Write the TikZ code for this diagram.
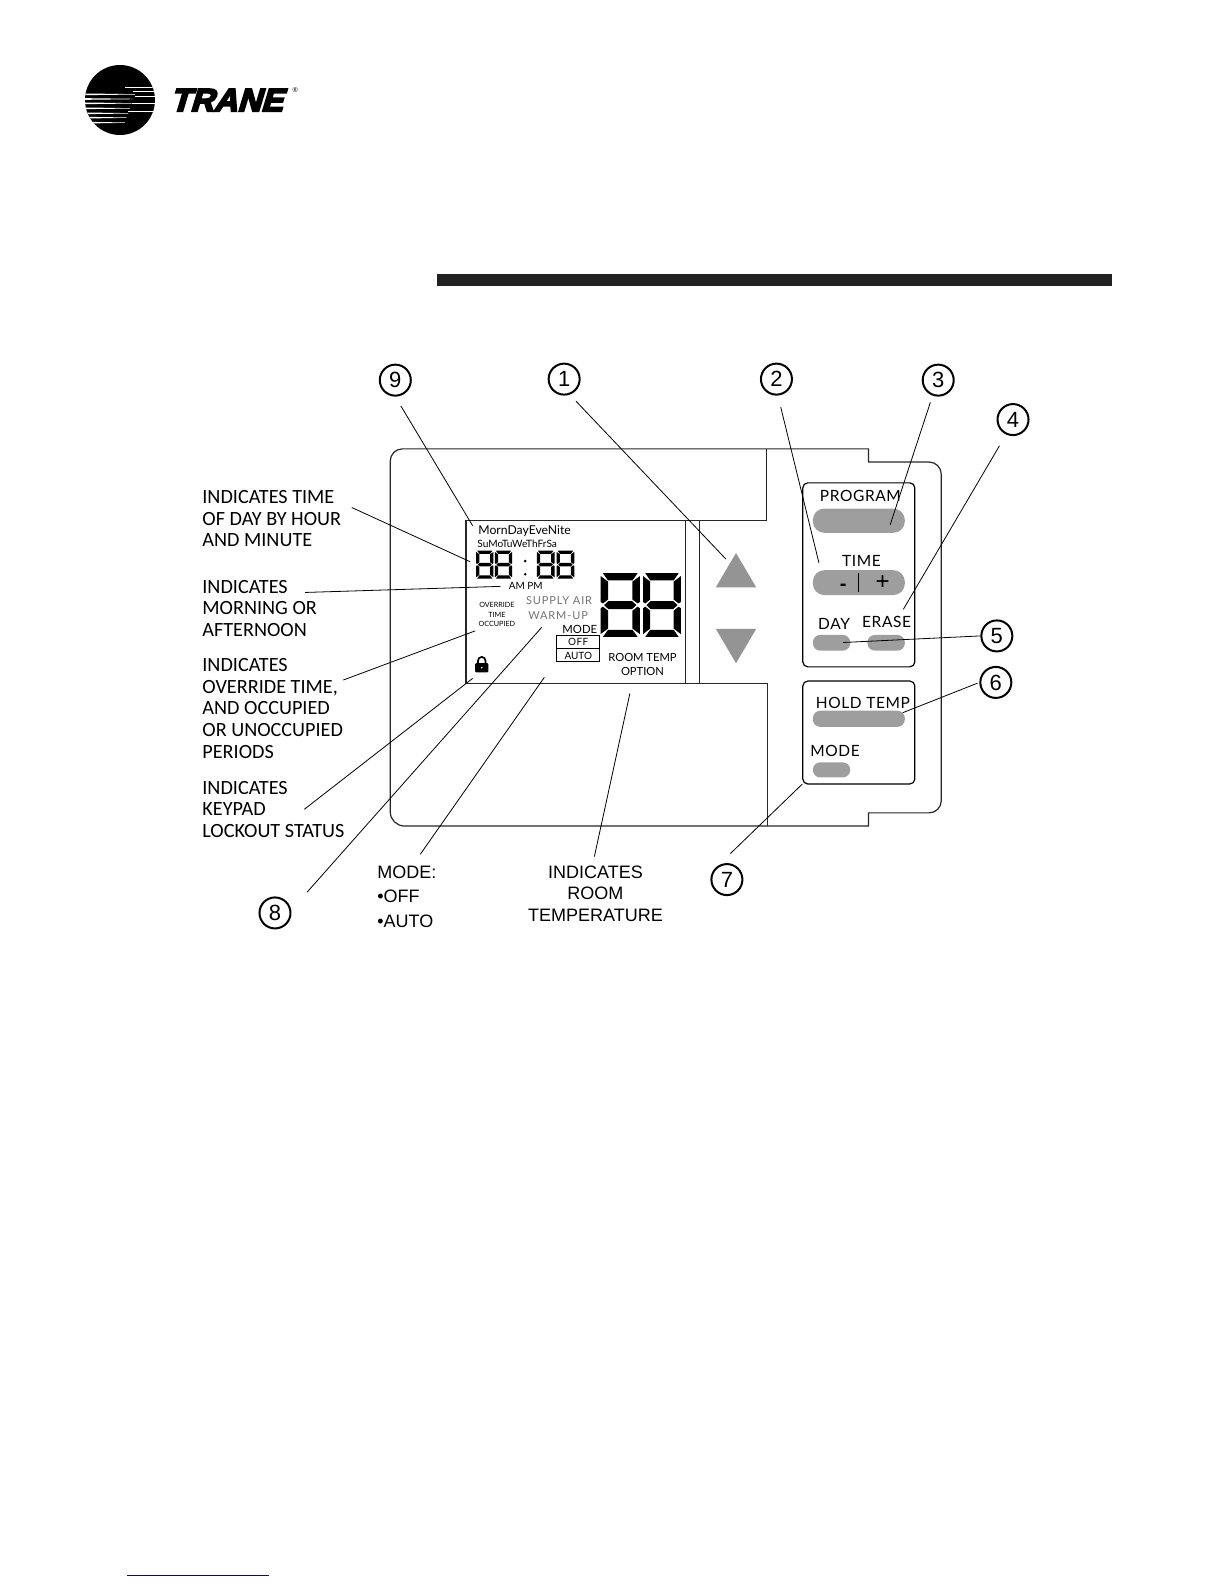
\documentclass[tikz,border=0pt]{standalone}
\usepackage{fontspec}
\setmainfont{Liberation Sans}
\newfontfamily\labelfont{Carlito}
\newfontfamily\lcdfont{Lato}
\newfontfamily\panelfont[LetterSpace=4]{Lato}
\newfontfamily\tranefont[FakeSlant=0.3,FakeBold=6,FakeStretch=1.02]{Liberation Sans Bold}
\newcommand{\fs}[1]{\fontsize{#1}{#1}\selectfont}
\newcommand{\fsl}[2]{\fontsize{#1}{#2}\selectfont}
\newcommand{\segdigit}[4]{%
\begin{scope}[shift={(#1,#2)},xscale=#3/100,yscale=#4/160]
\fill[black] (6,0)--(94,0)--(81,18)--(19,18)--cycle;
\fill[black] (9,80)--(20,70)--(80,70)--(91,80)--(80,90)--(20,90)--cycle;
\fill[black] (6,160)--(94,160)--(81,142)--(19,142)--cycle;
\fill[black] (0,7)--(19,21)--(19,66)--(6,76)--(0,72)--cycle;
\fill[black] (100,7)--(81,21)--(81,66)--(94,76)--(100,72)--cycle;
\fill[black] (0,153)--(19,139)--(19,94)--(6,84)--(0,88)--cycle;
\fill[black] (100,153)--(81,139)--(81,94)--(94,84)--(100,88)--cycle;
\end{scope}}
\tikzset{
  lead/.style={draw=black,line width=0.8pt},
  outline/.style={draw=black!85,line width=1.2pt},
  numcirc/.style={circle,draw=black,line width=2pt,minimum width=31pt,inner sep=0pt,font=\fs{22}},
  lefttext/.style={anchor=north west,inner sep=0pt,align=left,font=\labelfont\fsl{20.2}{21.65}},
  btnfill/.style={fill=black!38},
  panel/.style={draw=black,line width=1.2pt,rounded corners=5pt},
  paneltext/.style={font=\panelfont\fs{15.5},inner sep=0pt},
  lcdtext/.style={inner sep=0pt}
}
\begin{document}
\begin{tikzpicture}[x=1.011pt,y=-1.011pt]
\useasboundingbox (0,0) rectangle (1210.68,1566.77);
% logo
\begin{scope}[x=0.3333pt,y=-0.3333pt,shift={(70pt,-50pt)}]
\fill[black] (150,150) circle (105);
\begin{scope}
\clip (150,150) circle (105);
\foreach \ya/\xa/\xb in {112/165/255,125/190/255,140/195/255,160/185/255,183/175/255}
  \draw[white,line width=0.6pt] (\xa,\ya)--(\xb,\ya);
\foreach \ya/\xa/\xb in {133/45/195,147/45/190,160/45/185,175/45/180,190/45/175,203/45/170,218/45/165}
  \fill[white] (\xa,\ya-2.5)--(\xb,\ya-0.6)--(\xb,\ya+0.6)--(\xa,\ya+2.5)--cycle;
\end{scope}
\end{scope}
\node[anchor=base west,inner sep=0pt,font=\tranefont\fs{32}] (trane) at (168,110) {TRANE};
\node[anchor=center,inner sep=0pt,font=\fs{7}] (reg) at (292,89.5) {®};
% bar
\fill[black!87] (432,271) rectangle (1100,283);
% device
\draw[outline] (859,444) -- (398,444) to[out=180,in=90] (386,456) -- (386,803)
  to[out=-90,in=180] (400,817) -- (859,817) -- (859,804) -- (919,804)
  to[out=0,in=-90] (931,792) -- (931,469) to[out=90,in=0] (919,457) -- (859,457) -- cycle;
\draw[outline] (758,444) -- (758,515) -- (461,515) -- (461,676) -- (759,676) -- (759,817);
\draw[outline] (678,515) -- (678,676);
\draw[outline] (691.5,515) -- (691.5,676);
% arrows
\fill[black!42] (728,547) -- (748,581) -- (708,581) -- cycle;
\fill[black!42] (728,656) -- (748,622) -- (708,622) -- cycle;
% panels
\node[panel,minimum width=112pt,minimum height=184pt,anchor=north west] (panelA) at (793.5,477) {};
\node[panel,minimum width=112pt,minimum height=103pt,anchor=north west] (panelB) at (793.5,673) {};
\fill[btnfill,rounded corners=11.5pt] (804,503) rectangle (895,527);
\fill[btnfill,rounded corners=11.5pt] (804,564) rectangle (895,588.6);
\fill[btnfill,rounded corners=7.5pt] (804,628) rectangle (841,643.6);
\fill[btnfill,rounded corners=7.5pt] (858,628) rectangle (895,643.6);
\fill[btnfill,rounded corners=7.5pt] (804,703) rectangle (895,719);
\fill[btnfill,rounded corners=7.5pt] (804,754) rectangle (841,769);
\node[paneltext] (tprog) at (851,490.5) {PROGRAM};
\node[paneltext] (ttime) at (852,555) {TIME};
\node[inner sep=0pt,font=\bfseries\fs{20}] (tminus) at (834,581) {-};
\draw[black,line width=1pt] (849,567) -- (849,586);
\node[inner sep=0pt,font=\fs{24}] (tplus) at (873,576) {+};
\node[paneltext] (tday) at (825,617) {DAY};
\node[paneltext] (terase) at (877,615.5) {ERASE};
\node[paneltext] (thold) at (853.5,695) {HOLD TEMP};
\node[paneltext] (tmode) at (826,743) {MODE};
% lcd
\node[lcdtext,anchor=base west,font=\lcdfont\fs{12.2}] (morn) at (473,529) {MornDayEveNite};
\node[lcdtext,anchor=base west,font=\lcdfont\fs{10.1}] (sumo) at (472,542) {SuMoTuWeThFrSa};
\segdigit{471}{544.7}{17}{27.5}
\segdigit{489.5}{544.7}{17}{27.5}
\segdigit{531}{544.7}{17.5}{27.5}
\segdigit{550.5}{544.7}{17.5}{27.5}
\fill[black] (519.5,555) circle (1.4) (519.5,568) circle (1.4);
\segdigit{594}{567}{39}{63}
\segdigit{636}{567}{37.5}{63}
\node[lcdtext,font=\lcdfont\fs{10}] (ampm) at (520,580) {AM PM};
\node[lcdtext,align=center,font=\lcdfont\fsl{7.2}{9.3}] (over) at (491.5,608) {OVERRIDE\\TIME\\OCCUPIED};
\node[lcdtext,font=\lcdfont\fs{11},text=black!55] (supply) at (553,594) {\addfontfeature{LetterSpace=8}SUPPLY AIR};
\node[lcdtext,font=\lcdfont\fs{11},text=black!55] (warm) at (552,609) {\addfontfeature{LetterSpace=8}WARM-UP};
\node[lcdtext,font=\lcdfont\fs{11.3}] (tmode2) at (573.5,623) {MODE};
\draw[black,line width=1.1pt] (550,629) rectangle (593,654.5) (550,641.3) -- (593,641.3);
\node[lcdtext,font=\lcdfont\fs{10}] (off) at (572,635.3) {\addfontfeature{LetterSpace=4}OFF};
\node[lcdtext,font=\lcdfont\fs{10}] (auto) at (572,648.6) {AUTO};
\node[lcdtext,align=center,font=\lcdfont\fsl{11.2}{14.2}] (rt) at (635.5,657) {ROOM TEMP\\OPTION};
% lock
\fill[black,rounded corners=1pt] (470,656) rectangle (483,665);
\draw[black,line width=1.7pt] (472.8,657) -- (472.8,653.5) arc (180:360:3.7) -- (480.2,657);
\fill[white] (476.5,660.5) circle (0.9);
% left labels
\node[lefttext] (la) at (200,485) {INDICATES TIME\\OF DAY BY HOUR\\AND MINUTE};
\node[lefttext] (lb) at (200,573.5) {INDICATES\\MORNING OR\\AFTERNOON};
\node[lefttext] (lc) at (200,651) {INDICATES\\OVERRIDE TIME,\\AND OCCUPIED\\OR UNOCCUPIED\\PERIODS};
\node[lefttext] (ld) at (200,772.5) {INDICATES\\KEYPAD\\LOCKOUT STATUS};
% bottom labels
\node[anchor=west,inner sep=0pt,font=\fs{18}] (bm1) at (373,863) {MODE:};
\node[anchor=west,inner sep=0pt,font=\fs{18}] (bm2) at (373,887) {•OFF};
\node[anchor=west,inner sep=0pt,font=\fs{18}] (bm3) at (373,911) {•AUTO};
\node[inner sep=0pt,font=\fs{18}] (br1) at (589,862.5) {INDICATES};
\node[inner sep=0pt,font=\fs{18}] (br2) at (589,884) {ROOM};
\node[inner sep=0pt,font=\fs{18}] (br3) at (589,905) {TEMPERATURE};
% circles
\node[numcirc] (c9) at (391,376) {9};
\node[numcirc] (c1) at (558,375) {1};
\node[numcirc] (c2) at (768,375) {2};
\node[numcirc] (c3) at (928,376) {3};
\node[numcirc] (c4) at (1002,415) {4};
\node[numcirc] (c5) at (986,629) {5};
\node[numcirc] (c6) at (985,675) {6};
\node[numcirc] (c7) at (719,870) {7};
\node[numcirc] (c8) at (272,903) {8};
% free ends
\coordinate (e9) at (467.5,520);
\coordinate (e1) at (718,553);
\coordinate (e2) at (810,556.6);
\coordinate (e3) at (880.5,519);
\coordinate (e4) at (893.5,602.7);
\coordinate (e5) at (834,635.5);
\coordinate (e6) at (892.8,705);
\coordinate (e7) at (793.6,775.5);
\coordinate (e8) at (535.8,620.5);
\coordinate (a1) at (348,502);
\coordinate (a2) at (465,555.6);
\coordinate (b1) at (301.7,586);
\coordinate (b2) at (495,580);
\coordinate (o1) at (339.6,672.6);
\coordinate (o2) at (470,624);
\coordinate (k1) at (301,800.5);
\coordinate (k2) at (467.5,671);
\coordinate (m1) at (415.7,845);
\coordinate (m2) at (538.4,670);
\coordinate (r1) at (587.9,847.3);
\coordinate (r2) at (623,686);
% connectors
\draw[lead,shorten <=11pt] (c9.-90) -- (e9);
\draw[lead,shorten <=9pt] (c1.-70) -- (e1);
\draw[lead,shorten <=12pt] (c2.-85) -- (e2);
\draw[lead,shorten <=7pt] (c3.-110) -- (e3);
\draw[lead,shorten <=13pt] (c4.-115) -- (e4);
\draw[lead] (c5.180) -- (e5);
\draw[lead,shorten <=2pt] (c6.180) -- (e6);
\draw[lead,shorten <=18pt] (c7.125) -- (e7);
\draw[lead,shorten <=24pt] (c8.10) -- (e8);
\draw[lead] (a1) -- (a2);
\draw[lead] (b1) -- (b2);
\draw[lead] (o1) -- (o2);
\draw[lead] (k1) -- (k2);
\draw[lead] (m1) -- (m2);
\draw[lead] (r1) -- (r2);
% bottom rule
\draw[draw={rgb,255:red,10;green,10;blue,130},line width=1.3pt] (125.6,1558) -- (265.8,1558);
\end{tikzpicture}
\end{document}
